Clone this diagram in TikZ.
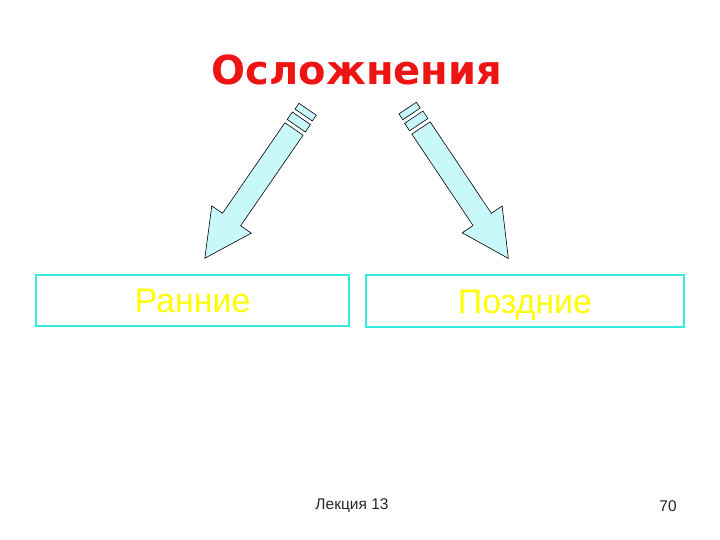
\documentclass[tikz,border=0pt]{standalone}
\usepackage{fontspec}
\setmainfont{Liberation Sans}
\newfontfamily\titlefont{DejaVu Sans}
\usetikzlibrary{positioning}

\definecolor{boxline}{RGB}{51,235,225}
\definecolor{arrowfill}{RGB}{200,248,250}
\definecolor{titlered}{RGB}{238,20,20}
\definecolor{labelyellow}{RGB}{255,255,0}

\tikzset{
    pics/fatarrow/.style={code={
        % shaft and head
        \draw[black,fill=arrowfill,line width=0.6pt,line join=miter]
            (0,11) -- (110,11) -- (110,24) -- (157,0) -- (110,-24)
            -- (110,-11) -- (0,-11) -- cycle;
        % two rings at the tail
        \draw[black,fill=arrowfill,line width=0.6pt] (-4,-11) rectangle (-13,11);
        \draw[black,fill=arrowfill,line width=0.6pt] (-17,-10.5) rectangle (-24,10.5);
    }},
    kind/.style={draw=boxline,line width=2pt,inner sep=0pt,
        text height=25pt,text depth=0pt,
        text=labelyellow,font=\fontsize{34}{34}\selectfont},
    footer/.style={font=\fontsize{15.5}{15.5}\selectfont,text=black!85}
}

\begin{document}
\begin{tikzpicture}[x=1pt,y=1pt]
    \useasboundingbox (0,0) rectangle (720,540);

    \node (title) at (357,470)
        {\color{titlered}\titlefont\bfseries\fontsize{40}{40}\selectfont Осложнения};

    \node[kind,minimum width=313pt,minimum height=51pt] (early) at (192.5,239.5) {Ранние};
    \node[kind,minimum width=318pt,minimum height=52pt] (late) at (525,239) {Поздние};

    \pic[rotate=235.4] at (294,411) {fatarrow};
    \pic[rotate=303.8] at (421,412) {fatarrow};

    \node[footer] (lecture) at (352,34) {Лекция 13};
    \node[footer] (page) at (668,34) {70};
\end{tikzpicture}
\end{document}
